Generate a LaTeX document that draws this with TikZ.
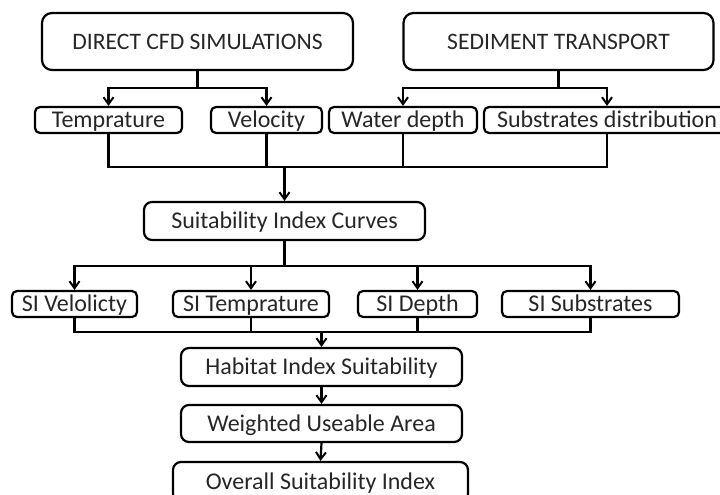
\documentclass[tikz,border=0pt]{standalone}
\usepackage{fontspec}
\setmainfont{Carlito}
\usetikzlibrary{arrows.meta}
\tikzset{
  box/.style={draw=black, line width=2.2pt, rounded corners=6pt, inner sep=0pt, align=center, text=black!85, text height=15pt, text depth=0pt},
  bigbox/.style={box, rounded corners=10pt, font=\fontsize{23.6}{25}\selectfont},
  smallbox/.style={box, rounded corners=5pt, minimum height=26pt, font=\fontsize{24}{25}\selectfont},
  midbox/.style={box, rounded corners=8pt, font=\fontsize{24}{25}\selectfont},
  conn/.style={draw=black, line width=2.2pt},
  arr/.style={conn, -{Straight Barb[length=7pt,width=10pt,line width=2pt]}},
}
\begin{document}
\begin{tikzpicture}[x=1pt,y=-1pt]
\useasboundingbox (0,0) rectangle (720,495);
\clip (0,0) rectangle (720,495);
% top boxes
\node[bigbox, minimum width=311pt, minimum height=57pt] (cfd) at (197.5,41.5) {DIRECT CFD SIMULATIONS};
\node[bigbox, minimum width=310pt, minimum height=57pt] (sed) at (558.5,41.5) {SEDIMENT TRANSPORT};
% second row
\node[smallbox, minimum width=147pt] (temp) at (108.5,120) {Temprature};
\node[smallbox, minimum width=111pt] (vel) at (266.5,120) {Velocity};
\node[smallbox, minimum width=148pt] (wd) at (403,120) {Water depth};
\node[smallbox, minimum width=246pt] (sub) at (607,120) {Substrates distribution};
% SI curves
\node[midbox, minimum width=281pt, minimum height=38pt] (sic) at (284.5,221) {Suitability Index Curves};
% SI row
\node[smallbox, minimum width=125pt] (siv) at (74.5,304) {SI Velolicty};
\node[smallbox, minimum width=156pt] (sit) at (251,304) {SI Temprature};
\node[smallbox, minimum width=119pt] (sid) at (417.5,304) {SI Depth};
\node[smallbox, minimum width=177pt] (sis) at (590.5,304) {SI Substrates};
% bottom chain
\node[midbox, minimum width=281pt, minimum height=38pt] (his) at (321.5,367) {Habitat Index Suitability};
\node[midbox, minimum width=281pt, minimum height=37pt] (wua) at (321.5,423.5) {Weighted Useable Area};
\node[midbox, minimum width=295pt, minimum height=40pt] (osi) at (320.5,482) {Overall Suitability Index};
% junctions
\coordinate (j1) at (cfd.south |- 0,88);
\coordinate (j2) at (sed.south |- 0,88);
\coordinate (j3) at (sic.north |- 0,167);
\coordinate (j4) at (sic.south |- 0,266);
\coordinate (j5) at (his.north |- 0,332);
% CFD branch
\draw[conn] (cfd.south) -- (j1);
\draw[arr] (j1) -| (temp.north);
\draw[arr] (j1) -| (vel.north);
% sediment branch
\draw[conn] (sed.south) -- (j2);
\draw[arr] (j2) -| (wd.north);
\draw[arr] (j2) -| (sub.north);
% merge to SI curves
\draw[conn] (temp.south) |- (j3);
\draw[conn] (vel.south) |- (j3);
\draw[conn] (wd.south) |- (j3);
\draw[conn] (sub.south) |- (j3);
\draw[arr] (j3) -- (sic.north);
% SI curves branch
\draw[conn] (sic.south) -- (j4);
\draw[arr] (j4) -| (siv.north);
\draw[arr] (j4) -| (sit.north);
\draw[arr] (j4) -| (sid.north);
\draw[arr] (j4) -| (sis.north);
% merge to habitat
\draw[conn] (siv.south) |- (j5);
\draw[conn] (sit.south) |- (j5);
\draw[conn] (sid.south) |- (j5);
\draw[conn] (sis.south) |- (j5);
\draw[arr] (j5) -- (his.north);
\draw[arr] (his.south) -- (wua.north);
\draw[arr] (wua.south) -- (osi.north);
\end{tikzpicture}
\end{document}
